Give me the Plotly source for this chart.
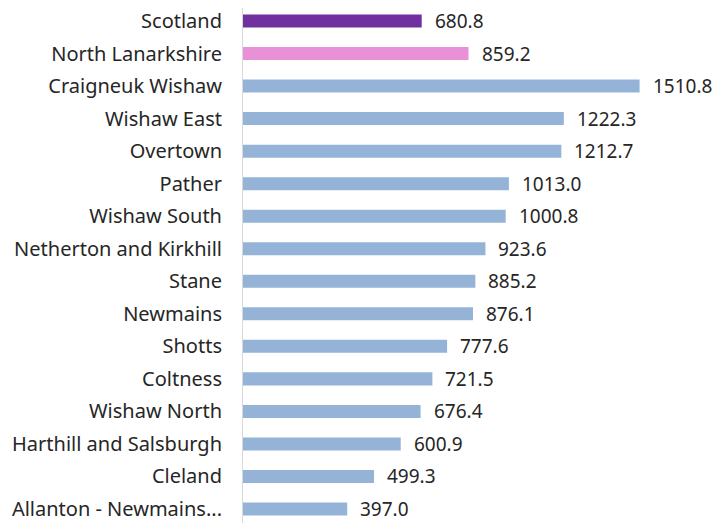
import plotly.graph_objects as go

categories = ["Scotland", "North Lanarkshire", "Craigneuk Wishaw", "Wishaw East", "Overtown",
              "Pather", "Wishaw South", "Netherton and Kirkhill", "Stane", "Newmains",
              "Shotts", "Coltness", "Wishaw North", "Harthill and Salsburgh", "Cleland",
              "Allanton - Newmains..."]
values = [680.8, 859.2, 1510.8, 1222.3, 1212.7, 1013.0, 1000.8, 923.6, 885.2, 876.1,
          777.6, 721.5, 676.4, 600.9, 499.3, 397.0]
colors = ["#7030A0", "#E891D6"] + ["#95B3D7"] * 14

font = "Noto Sans"
fs = 20
fig = go.Figure()
fig.add_trace(go.Bar(
    x=values, y=categories, orientation="h",
    marker=dict(color=colors, line=dict(width=0)),
    width=0.4, hoverinfo="skip",
))
for c, v in zip(categories, values):
    fig.add_annotation(x=v, y=c, text=f"{v:.1f}", showarrow=False,
                       xanchor="left", xshift=11, font=dict(family=font, size=19, color="#262626"))

fig.update_layout(
    width=713, height=515,
    margin=dict(l=235, r=0, t=0, b=0),
    plot_bgcolor="white", paper_bgcolor="white",
    showlegend=False,
    xaxis=dict(range=[0, 1821], visible=False, showgrid=False, zeroline=False),
    yaxis=dict(categoryorder="array", categoryarray=categories, automargin=False,
               range=[15.43, -0.40], showline=True, linecolor="#D9D9D9", linewidth=1,
               ticks="", ticklabelstandoff=16, showgrid=False,
               tickfont=dict(family=font, size=fs, color="#262626")),
)
fig.write_html("out.html")
